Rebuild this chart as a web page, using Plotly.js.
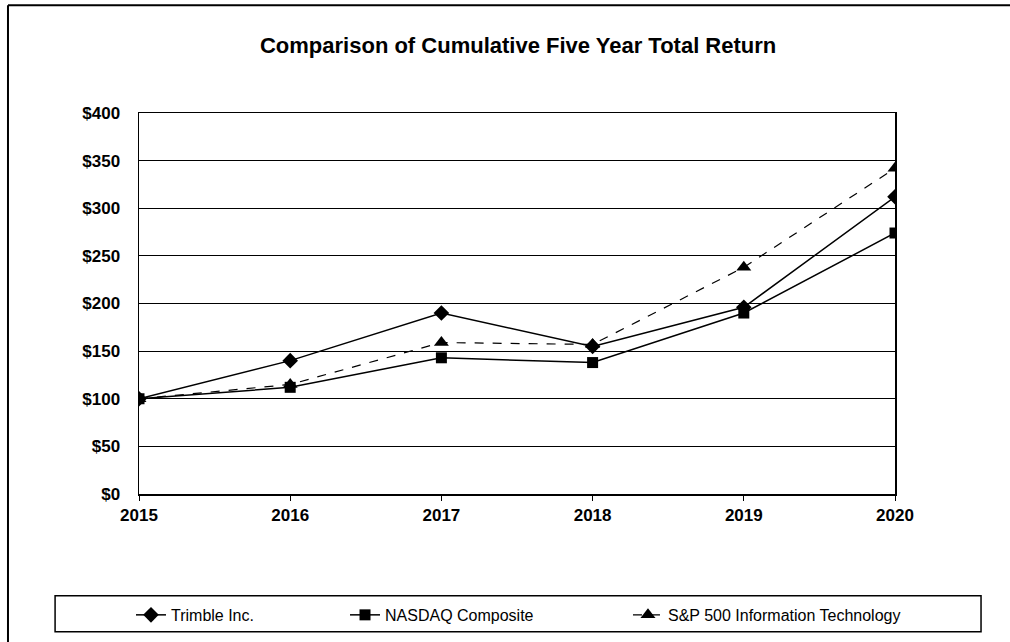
<!DOCTYPE html>
<html>
<head>
<meta charset="utf-8">
<script src="https://cdn.plot.ly/plotly-3.0.1.min.js"></script>
<style>html,body{margin:0;padding:0;background:#fff;}#chart{width:1010px;height:642px;}</style>
</head>
<body>
<div id="chart"></div>
<script>
const years = ['2015', '2016', '2017', '2018', '2019', '2020'];
const trimble = [100, 140, 190, 155, 196, 312];
const nasdaq = [100, 112, 143, 138, 190, 274];
const sp500it = [100, 115, 159, 157, 238, 342];
const yTickVals = [0, 50, 100, 150, 200, 250, 300, 350, 400];
const yTickText = ['$0', '$50', '$100', '$150', '$200', '$250', '$300', '$350', '$400'];

const FONT = 'Liberation Sans Narrow, Liberation Sans, Arial, sans-serif';

const traces = [
  {x: years, y: trimble, name: 'Trimble Inc.', type: 'scatter', mode: 'lines+markers',
   line: {color: '#000', width: 1.5}, marker: {symbol: 'diamond', size: 12, color: '#000'}, legend: 'legend'},
  {x: years, y: nasdaq, name: 'NASDAQ Composite', type: 'scatter', mode: 'lines+markers',
   line: {color: '#000', width: 1.5}, marker: {symbol: 'square', size: 11, color: '#000'}, legend: 'legend2'},
  {x: years, y: sp500it, name: 'S&P 500 Information Technology', type: 'scatter', mode: 'lines+markers',
   line: {color: '#000', width: 1.2, dash: 'dash'}, marker: {symbol: 'triangle-up', size: 13, color: '#000'}, legend: 'legend3'}
];

const legBase = {orientation: 'h', yanchor: 'middle', y: -0.314, xanchor: 'left',
  bgcolor: 'rgba(0,0,0,0)', borderwidth: 0, font: {family: FONT, size: 16, color: '#000'}, itemsizing: 'trace'};

const layout = {
  width: 1010, height: 642,
  margin: {l: 139, r: 115, t: 113, b: 147},
  paper_bgcolor: '#fff', plot_bgcolor: '#fff',
  showlegend: true,
  title: {text: '<b>Comparison of Cumulative Five Year Total Return</b>', x: 0.513, xanchor: 'center',
    y: 0.93, yanchor: 'middle', yref: 'container', font: {family: FONT, size: 22, color: '#000'}},
  xaxis: {type: 'category', range: [0, 5], showgrid: false, showline: true, linecolor: '#000', linewidth: 1.5,
    mirror: true, ticks: 'outside', ticklen: 5, tickcolor: '#000', zeroline: false,
    tickfont: {family: FONT, size: 17, color: '#000', weight: 'bold'}},
  yaxis: {range: [0, 400], tickvals: yTickVals, ticktext: yTickText, showgrid: true, gridcolor: '#000', gridwidth: 1,
    showline: true, linecolor: '#000', linewidth: 1.5, mirror: true, ticks: '', zeroline: false,
    ticklabelstandoff: 14,
    tickfont: {family: FONT, size: 17, color: '#000', weight: 'bold'}},
  legend: Object.assign({}, legBase, {x: -0.0106}),
  legend2: Object.assign({}, legBase, {x: 0.2725}),
  legend3: Object.assign({}, legBase, {x: 0.6468}),
  shapes: [
    {type: 'rect', xref: 'paper', yref: 'paper', x0: -0.111, x1: 1.1138, y0: -0.3613, y1: -0.267,
     line: {color: '#000', width: 1.5}},
    {type: 'line', xref: 'paper', yref: 'paper', x0: -0.1733, x1: -0.1733, y0: -0.45, y1: 1.2827,
     line: {color: '#000', width: 2}},
    {type: 'line', xref: 'paper', yref: 'paper', x0: -0.1733, x1: 1.2, y0: 1.2827, y1: 1.2827,
     line: {color: '#000', width: 2}}
  ]
};

Plotly.newPlot('chart', traces, layout, {displayModeBar: false, staticPlot: true});
</script>
</body>
</html>
